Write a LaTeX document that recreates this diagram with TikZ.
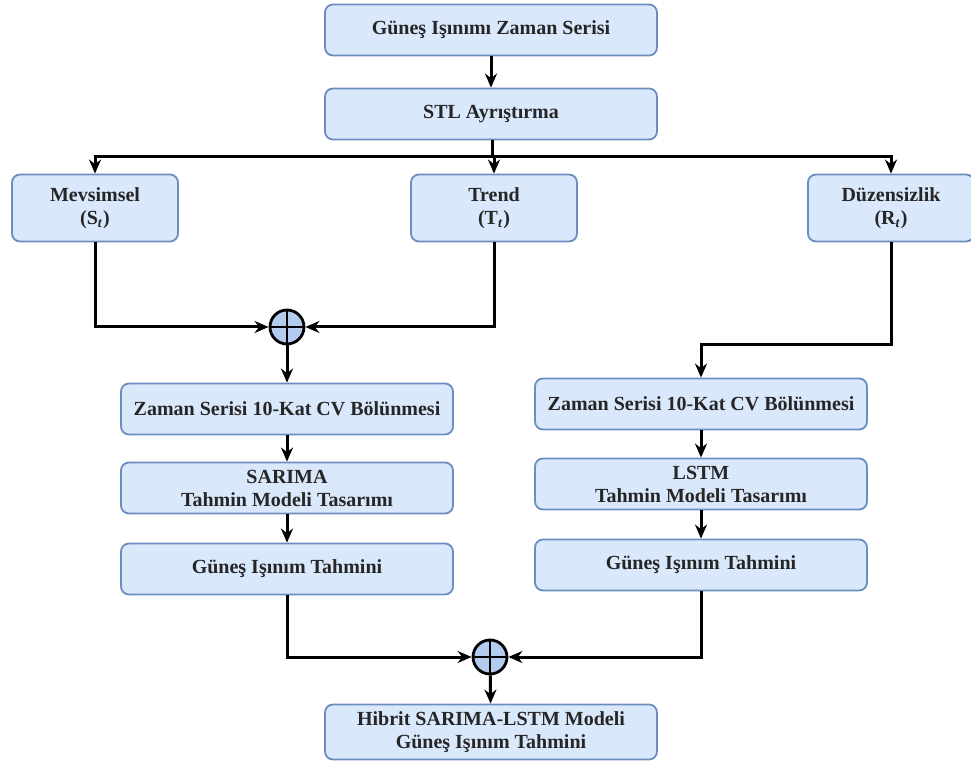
\documentclass[tikz,border=0pt]{standalone}
\usepackage{fontspec}
\setmainfont{Liberation Serif}
\usepackage{tikz}
\usetikzlibrary{arrows.meta}
\definecolor{boxfill}{HTML}{DAE8FC}
\definecolor{boxline}{HTML}{6C8EBF}
\definecolor{sumfill}{HTML}{B3CBEF}

\begin{document}
\begin{tikzpicture}[x=0.5pt, y=-0.5pt,
  box/.style={draw=boxline, fill=boxfill, line width=0.9pt, rounded corners=4pt,
    align=center, font=\bfseries\fontsize{10}{11.5}\selectfont, text=black!85, inner sep=1pt},
  widebox/.style={box, minimum width=166pt, minimum height=25.5pt},
  smallbox/.style={box, minimum width=83pt, minimum height=33.5pt},
  sumnode/.style={circle, draw, line width=1.4pt, fill=sumfill, minimum size=17pt, inner sep=0pt,
    path picture={\draw[line width=1.3pt] (path picture bounding box.north) -- (path picture bounding box.south)
      (path picture bounding box.west) -- (path picture bounding box.east);}},
  link/.style={line width=1.5pt, -{Stealth[length=7pt,width=6pt]}}]
\useasboundingbox (0,0) rectangle (971,765);
% Giris ve ayristirma
\node[widebox] (seri) at (491,30) {Güneş Işınımı Zaman Serisi};
\node[widebox] (stl) at (491,114) {STL Ayrıştırma};
\draw[link] (seri) -- (stl);
% Bilesenler
\node[smallbox] (mevsim) at (95,208) {Mevsimsel\\(S\textsubscript{\textit{t}})};
\node[smallbox] (trend) at (494,208) {Trend\\(T\textsubscript{\textit{t}})};
\node[smallbox] (duzen) at (891,208) {Düzensizlik\\(R\textsubscript{\textit{t}})};
\coordinate (dal) at (492,157);
\draw[line width=1.5pt] (stl.south -| dal) -- (dal);
\draw[link] (dal) -| (mevsim.north);
\draw[link] (dal) -- (dal -| trend.north) -- (trend.north);
\draw[link] (dal) -| (duzen.north);
% Toplama 1
\node[sumnode] (topla1) at (287,327) {};
\draw[link] (mevsim.south) |- (topla1.west);
\draw[link] (trend.south) |- (topla1.east);
% Sol kol: SARIMA
\node[widebox] (cvsol) at (287,409) {Zaman Serisi 10-Kat CV Bölünmesi};
\node[widebox] (sarima) at (287,488) {SARIMA\\Tahmin Modeli Tasarımı};
\node[widebox] (tahsol) at (287,569) {Güneş Işınım Tahmini};
\draw[link] (topla1) -- (cvsol);
\draw[link] (cvsol) -- (sarima);
\draw[link] (sarima) -- (tahsol);
% Sag kol: LSTM
\node[widebox] (cvsag) at (701,404) {Zaman Serisi 10-Kat CV Bölünmesi};
\node[widebox] (lstm) at (701,484) {LSTM\\Tahmin Modeli Tasarımı};
\node[widebox] (tahsag) at (701,565) {Güneş Işınım Tahmini};
\coordinate (kirik) at (891,345);
\draw[link] (duzen.south) -- (kirik) -- (kirik -| cvsag.north) -- (cvsag.north);
\draw[link] (cvsag) -- (lstm);
\draw[link] (lstm) -- (tahsag);
% Toplama 2 ve sonuc
\node[sumnode] (topla2) at (490,657) {};
\draw[link] (tahsol.south) |- (topla2.west);
\draw[link] (tahsag.south) |- (topla2.east);
\node[widebox, minimum height=27.5pt] (hibrit) at (491,732) {Hibrit SARIMA-LSTM Modeli\\Güneş Işınım Tahmini};
\draw[link] (topla2) -- (hibrit);
\end{tikzpicture}
\end{document}
